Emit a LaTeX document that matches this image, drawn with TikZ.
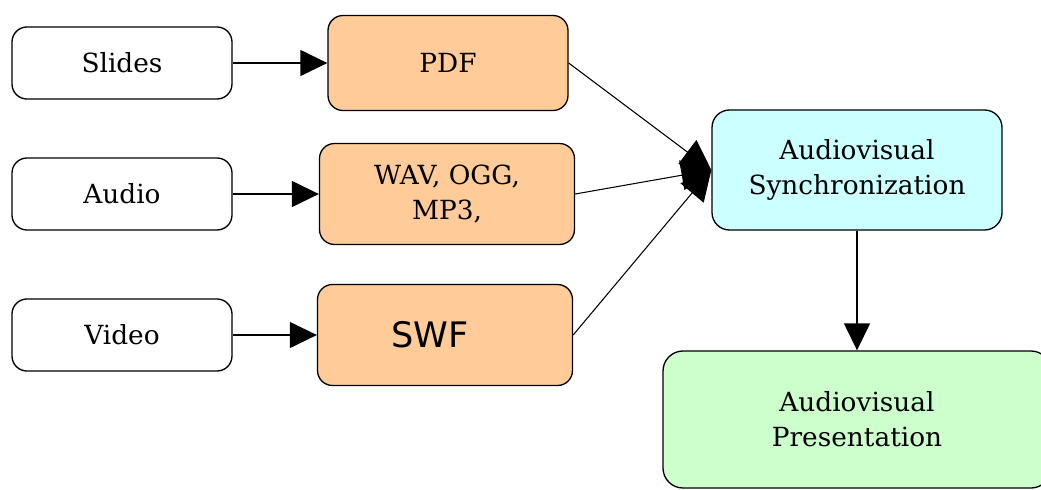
\documentclass[tikz,border=0pt]{standalone}
\usepackage{fontspec}
\setmainfont{DejaVu Serif}
\newfontfamily\swffont{DejaVu Sans}
\usetikzlibrary{arrows.meta}
\definecolor{fmtorange}{RGB}{255,204,153}
\definecolor{synccyan}{RGB}{204,255,255}
\definecolor{presgreen}{RGB}{204,255,204}

\begin{document}
\begin{tikzpicture}[font=\fontsize{15}{20}\selectfont, line width=0.75pt,
				srcbox/.style={rectangle,rounded corners=0.3cm,draw,fill=white,minimum width=4.4cm,minimum height=1.44cm},
				fmtbox/.style={rectangle,rounded corners=0.3cm,draw,fill=fmtorange,minimum width=5.1cm,minimum height=2.02cm,align=center},
				syncbox/.style={rectangle,rounded corners=0.35cm,draw,fill=synccyan,minimum width=5.8cm,minimum height=2.4cm,align=center},
				presbox/.style={rectangle,rounded corners=0.4cm,draw,fill=presgreen,minimum width=7.76cm,minimum height=2.74cm,align=center},
				flow/.style={-{Triangle[length=0.54cm,width=0.52cm]}},
				joinflow/.style={-{Triangle[length=0.6cm,width=0.6cm]}}]

				\clip (0,0) rectangle (20.82,-9.78);

				\node (slides) [srcbox] at (2.44,-1.26) {Slides};
				\node (audio) [srcbox,below of=slides,node distance=2.62cm] {Audio};
				\node (video) [srcbox,below of=audio,node distance=2.82cm] {Video};
				\node (pdf) [fmtbox,right of=slides,node distance=6.52cm,minimum width=4.8cm,minimum height=1.9cm] {PDF};
				\node (wav) [fmtbox,right of=audio,node distance=6.5cm] {WAV, OGG,\\MP3,};
				\node (swf) [fmtbox,right of=video,node distance=6.46cm] {\swffont\fontsize{20}{24}\selectfont SWF\hspace*{0.6cm}};
				\node (sync) [syncbox] at (17.14,-3.4) {Audiovisual\\Synchronization};
				\node (pres) [presbox,below of=sync,node distance=4.99cm] {Audiovisual\\Presentation};

				\draw [flow] (slides.east)--(pdf.west);
				\draw [flow] (audio.east)--(wav.west);
				\draw [flow] (video.east)--(swf.west);
				\draw [joinflow,line width=0.6pt] (pdf.east)--(sync.west);
				\draw [joinflow,line width=0.6pt] (wav.east)--(sync.west);
				\draw [joinflow,line width=0.6pt] (swf.east)--(sync.west);
				\draw [flow] (sync.south)--(pres.north);
			\end{tikzpicture}
\end{document}
